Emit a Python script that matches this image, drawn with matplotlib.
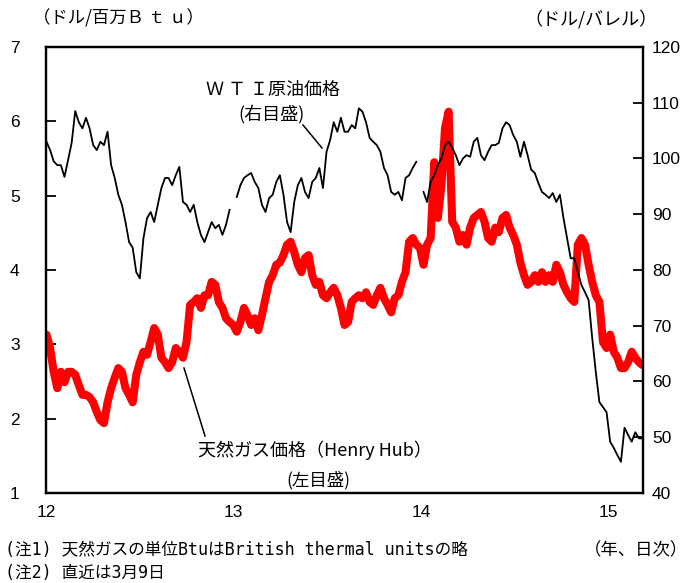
import numpy as np
import pandas as pd
import matplotlib
matplotlib.use("Agg")
import matplotlib.pyplot as plt
from matplotlib import font_manager

plt.rcParams['font.family'] = ['Noto Sans CJK JP', 'DejaVu Sans']

# narrow face for the axis numbers if it is there
installed = {f.name for f in font_manager.fontManager.ttflist}
NUM_FONT = "Liberation Sans Narrow" if "Liberation Sans Narrow" in installed else "Liberation Sans"
MONO_CJK = ['DejaVu Sans Mono', 'Noto Sans CJK JP']

# weekly observations, Monday 2012-01-02 .. Monday 2015-03-09
weeks = pd.date_range("2012-01-02", "2015-03-09", freq="W-MON")

# Henry Hub natural gas ($/mmBtu), left scale
gas = [
    3.13, 2.95, 2.63, 2.41, 2.63, 2.49, 2.63, 2.63, 2.59, 2.45,
    2.32, 2.32, 2.29, 2.22, 2.09, 1.98, 1.94, 2.22, 2.41, 2.55,
    2.68, 2.63, 2.41, 2.32, 2.22, 2.59, 2.76, 2.90, 2.86, 3.03,
    3.22, 3.13, 2.82, 2.76, 2.68, 2.76, 2.95, 2.90, 2.82, 3.03,
    3.53, 3.57, 3.62, 3.49, 3.66, 3.66, 3.84, 3.80, 3.57, 3.49,
    3.35, 3.30, 3.26, 3.17, 3.30, 3.49, 3.39, 3.26, 3.35, 3.19,
    3.39, 3.62, 3.84, 3.93, 4.07, 4.10, 4.20, 4.34, 4.38, 4.24,
    4.07, 3.97, 4.16, 4.20, 3.93, 3.80, 3.84, 3.66, 3.62, 3.70,
    3.76, 3.66, 3.49, 3.26, 3.30, 3.57, 3.62, 3.66, 3.62, 3.70,
    3.57, 3.53, 3.66, 3.76, 3.62, 3.53, 3.43, 3.62, 3.66, 3.84,
    3.97, 4.38, 4.43, 4.34, 4.30, 4.07, 4.34, 4.43, 5.45, 4.70,
    5.14, 5.91, 6.13, 4.65, 4.57, 4.38, 4.47, 4.34, 4.57, 4.70,
    4.74, 4.78, 4.65, 4.43, 4.38, 4.57, 4.51, 4.70, 4.74, 4.57,
    4.47, 4.34, 4.10, 3.93, 3.80, 3.84, 3.93, 3.84, 3.97, 3.84,
    3.93, 3.84, 4.07, 3.97, 3.80, 3.70, 3.62, 3.57, 4.34, 4.43,
    4.34, 4.07, 3.84, 3.66, 3.57, 3.03, 2.95, 3.13, 2.90, 2.82,
    2.68, 2.68, 2.76, 2.90, 2.82, 2.76, 2.72,
]

# WTI crude ($/bbl), right scale; nan = no quote (holiday)
wti = [
    103.0, 101.5, 99.5, 98.8, 98.8, 96.7, 99.7, 102.8, 108.5, 106.5,
    105.4, 107.3, 105.4, 102.4, 101.5, 103.0, 102.4, 104.8, 98.8, 96.5,
    93.5, 91.7, 88.6, 85.0, 84.0, 79.6, 78.5, 85.7, 89.3, 90.4,
    88.6, 91.7, 94.7, 96.5, 96.5, 95.2, 97.0, 98.5, 92.2, 91.7,
    90.4, 91.7, 88.6, 86.3, 85.0, 86.8, 88.6, 87.5, 88.1, 86.3,
    88.1, 90.8, np.nan, 93.1, 95.2, 96.5, 97.0, 97.4, 95.8, 94.7,
    91.7, 90.4, 92.9, 93.5, 95.8, 97.0, 93.5, 88.6, 86.8, 92.2,
    95.2, 96.5, 94.0, 92.9, 95.8, 96.5, 98.3, 94.7, 101.2, 103.3,
    106.5, 104.8, 107.3, 104.8, 104.8, 106.0, 105.4, 109.0, 108.4, 106.5,
    103.7, 103.0, 102.4, 101.2, 98.3, 97.0, 94.0, 93.5, 94.0, 92.5,
    96.5, 97.0, 98.3, 99.4, np.nan, 94.0, 92.2, 95.8, 97.0, 98.8,
    100.0, 102.4, 103.0, 101.9, 100.6, 98.8, 100.0, 100.6, 100.3, 103.0,
    103.7, 100.6, 99.7, 101.2, 102.4, 102.4, 102.8, 105.4, 106.5, 106.0,
    104.2, 103.0, 100.3, 103.0, 100.6, 98.0, 97.4, 95.6, 94.0, 93.5,
    92.9, 93.8, 92.2, 93.5, 89.3, 85.7, 82.1, 82.1, 79.6, 77.3,
    76.0, 74.6, 67.8, 61.7, 56.3, 55.4, 54.5, 49.2, 48.1, 46.8,
    45.6, 51.7, 50.4, 49.2, 50.9, 49.8, 49.8,
]

year_ticks = pd.to_datetime(["2012-01-01", "2013-01-01", "2014-01-01", "2015-01-01"])
year_labels = ["12", "13", "14", "15"]

fig = plt.figure(figsize=(6.97, 5.83), dpi=100)
ax = fig.add_axes([0.066, 0.1544, 0.8565, 0.765])
ax2 = ax.twinx()

ax.plot(weeks, gas, color="#ff0000", lw=5.8, solid_capstyle="round", solid_joinstyle="round")
ax2.plot(weeks, wti, color="black", lw=1.3)

ax.set_xlim(pd.Timestamp("2012-01-01"), pd.Timestamp("2015-03-10"))
ax.set_ylim(1, 7)
ax2.set_ylim(40, 120)
ax.set_yticks(range(1, 8))
ax2.set_yticks(range(40, 121, 10))
ax.set_xticks(year_ticks)
ax.set_xticklabels(year_labels)

for a in (ax, ax2):
    for s in a.spines.values():
        s.set_linewidth(1.6)
    for lab in a.get_xticklabels() + a.get_yticklabels():
        lab.set_fontfamily(NUM_FONT)
ax.tick_params(axis="y", direction="in", length=7, width=1.3, pad=19, labelsize=12.5)
ax2.tick_params(axis="y", direction="in", length=7, width=1.3, pad=6.5, labelsize=12.5)
ax.tick_params(axis="x", length=0, pad=9, labelsize=12.5)

# figure pixel coords -> figure fraction
W, H = 697, 583
def fxy(px, py):
    return px / W, 1 - py / H

fig.text(*fxy(33, 18), "（ドル/百万Ｂ ｔ ｕ）", fontsize=12.5, va="center", ha="left")
fig.text(*fxy(658, 19), "（ドル/バレル）", fontsize=13, va="center", ha="right")

# series labels with leader lines
fig.text(*fxy(206, 90), "Ｗ Ｔ Ｉ原油価格", fontsize=13, ha="left", va="center")
fig.text(*fxy(271, 114), "(右目盛)", fontsize=13, ha="center", va="center")
fig.add_artist(plt.Line2D(*zip(fxy(303, 125), fxy(322, 148)), color="black", lw=1.1))

fig.text(*fxy(198, 450), "天然ガス価格（Henry Hub）", fontsize=13, ha="left", va="center")
fig.text(*fxy(318, 480), "(左目盛)", fontsize=12.5, ha="center", va="center")
fig.add_artist(plt.Line2D(*zip(fxy(184, 368), fxy(205, 436)), color="black", lw=1.1))

fig.text(*fxy(5, 550), "(注1) 天然ガスの単位BtuはBritish thermal unitsの略",
         family=MONO_CJK, fontsize=12, ha="left", va="center")
fig.text(*fxy(5, 573), "(注2) 直近は3月9日",
         family=MONO_CJK, fontsize=12, ha="left", va="center")
fig.text(*fxy(688, 550), "（年、日次）", fontsize=12.5, ha="right", va="center")

fig.savefig("out.png", dpi=100)
